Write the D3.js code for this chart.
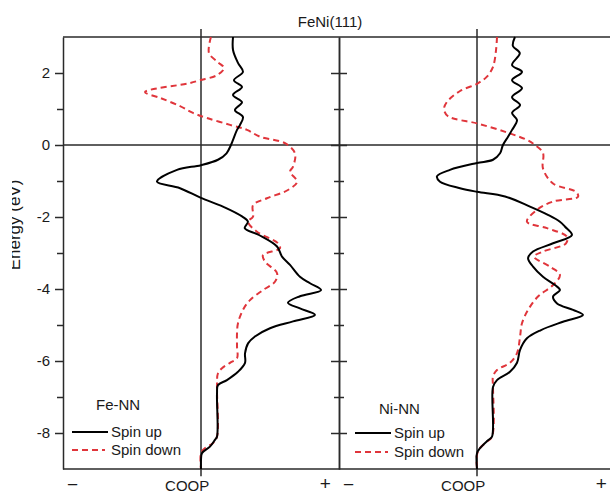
<!DOCTYPE html>
<html>
<head>
<meta charset="utf-8">
<script src="https://cdn.jsdelivr.net/npm/d3@7"></script>
<style>
  body { margin: 0; background: #fff; }
  svg { display: block; }
  text { font-family: "Liberation Sans", Arial, sans-serif; fill: #1a1a1a; }
</style>
</head>
<body>
<div id="chart"></div>
<script>
// energy (eV) vs COOP (arb. units)
const feUp = [[3.0,0.232],[2.64,0.232],[2.28,0.268],[2.03,0.304],[1.8,0.239],[1.61,0.297],[1.39,0.232],
  [1.19,0.297],[0.97,0.246],[0.78,0.304],[0.56,0.283],[0.42,0.261],[0.14,0.232],[0.0,0.217],[-0.23,0.185],
  [-0.41,0.123],[-0.56,0.0],[-0.69,-0.174],[-1.02,-0.319],[-1.2,-0.152],[-1.47,0.0],[-1.71,0.159],[-1.99,0.3],
  [-2.13,0.34],[-2.31,0.317],[-2.5,0.42],[-2.82,0.551],[-3.1,0.587],[-3.33,0.645],[-3.66,0.717],[-3.84,0.79],
  [-4.03,0.87],[-4.2,0.717],[-4.38,0.63],[-4.54,0.717],[-4.72,0.826],[-4.9,0.667],[-5.09,0.5],[-5.32,0.391],
  [-5.51,0.341],[-5.79,0.319],[-6.05,0.319],[-6.3,0.268],[-6.53,0.188],[-6.67,0.123],[-6.9,0.116],[-8.1,0.116],
  [-8.19,0.101],[-8.38,0.065],[-8.56,0.007],[-8.75,0.0],[-9.0,0.0]];
const feDown = [[3.0,0.072],[2.55,0.058],[2.3,0.123],[2.14,0.167],[1.94,0.116],[1.8,-0.007],[1.72,-0.08],
  [1.47,-0.406],[1.31,-0.297],[1.08,-0.152],[0.89,-0.058],[0.75,0.043],[0.56,0.21],[0.42,0.333],[0.23,0.428],
  [0.05,0.609],[-0.23,0.681],[-0.6,0.667],[-0.74,0.645],[-1.02,0.696],[-1.25,0.63],[-1.48,0.478],[-1.67,0.377],
  [-1.99,0.377],[-2.13,0.341],[-2.41,0.406],[-2.73,0.558],[-2.87,0.572],[-3.06,0.449],[-3.24,0.464],[-3.56,0.551],
  [-3.8,0.536],[-4.03,0.449],[-4.31,0.355],[-4.58,0.304],[-4.95,0.268],[-5.23,0.261],[-5.6,0.261],[-5.92,0.261],
  [-6.05,0.21],[-6.2,0.152],[-6.34,0.123],[-6.72,0.116],[-8.1,0.116],[-8.28,0.087],[-8.42,0.029],[-8.56,0.0],[-9.0,0.0]];
const niUp = [[3.0,0.275],[2.75,0.26],[2.55,0.31],[2.22,0.254],[2.03,0.326],[1.8,0.254],[1.58,0.326],[1.33,0.254],
  [1.11,0.312],[0.89,0.254],[0.69,0.29],[0.42,0.254],[0.23,0.225],[0.0,0.188],[-0.23,0.167],[-0.41,0.116],
  [-0.5,0.0],[-0.69,-0.196],[-0.87,-0.29],[-1.02,-0.268],[-1.2,-0.123],[-1.3,0.0],[-1.43,0.203],[-1.71,0.384],
  [-1.94,0.514],[-2.13,0.601],[-2.27,0.638],[-2.5,0.688],[-2.73,0.551],[-2.96,0.406],[-3.14,0.37],[-3.38,0.406],
  [-3.66,0.478],[-3.89,0.565],[-4.03,0.601],[-4.21,0.551],[-4.4,0.58],[-4.58,0.696],[-4.72,0.768],[-4.91,0.623],
  [-5.14,0.464],[-5.37,0.362],[-5.69,0.312],[-6.05,0.29],[-6.3,0.239],[-6.53,0.145],[-6.72,0.116],[-8.1,0.109],
  [-8.2,0.08],[-8.42,0.022],[-8.56,0.0],[-9.0,0.0]];
const niDown = [[3.0,0.145],[2.64,0.138],[2.17,0.116],[1.9,0.072],[1.7,0.0],[1.5,-0.123],[1.2,-0.217],[1.0,-0.239],
  [0.8,-0.21],[0.6,0.0],[0.35,0.217],[0.14,0.362],[0.0,0.42],[-0.22,0.478],[-0.65,0.478],[-1.07,0.551],
  [-1.3,0.717],[-1.44,0.732],[-1.57,0.551],[-1.8,0.435],[-2.13,0.362],[-2.31,0.507],[-2.55,0.652],[-2.73,0.645],
  [-2.96,0.478],[-3.1,0.413],[-3.38,0.529],[-3.61,0.601],[-3.89,0.551],[-4.21,0.442],[-4.58,0.37],[-4.95,0.326],
  [-5.32,0.312],[-5.78,0.29],[-6.05,0.239],[-6.25,0.145],[-6.43,0.116],[-6.72,0.116],[-8.1,0.109],[-8.24,0.072],
  [-8.42,0.022],[-8.6,0.0],[-9.0,0.0]];

const panelNames = ["Fe-NN", "Ni-NN"];
const legendLabels = ["Spin up", "Spin down"];
const majorTicks = [-8, -6, -4, -2, 0, 2];
const minorTicks = [-7, -5, -3, -1, 1];
const title = "FeNi(111)";

const width = 610, height = 495;
const svg = d3.select("#chart").append("svg").attr("width", width).attr("height", height);

const y = d3.scaleLinear().domain([-9, 3]).range([469, 37]);
const xFe = d3.scaleLinear().domain([-1, 1]).range([63, 339]);
const xNi = d3.scaleLinear().domain([-1, 1]).range([339, 615]);
const frameColor = "#2a2a2a";
const red = "#e0353b";

// frame lines: top, bottom and E = 0
[3, -9, 0].forEach(e => {
  svg.append("line").attr("x1", 63).attr("x2", width)
    .attr("y1", y(e)).attr("y2", y(e))
    .attr("stroke", frameColor).attr("stroke-width", 1.5);
});

// left energy axis
const axL = svg.append("g").attr("transform", "translate(63,0)")
  .call(d3.axisLeft(y).tickValues(majorTicks).tickSize(8).tickSizeOuter(0).tickPadding(5).tickFormat(d => String(d)));
axL.selectAll("path, line").attr("stroke", frameColor).attr("stroke-width", 1.5);
axL.selectAll("text").attr("font-size", 15).attr("fill", "#1a1a1a")
  .style("font-family", '"Liberation Sans", Arial, sans-serif');
svg.append("g").attr("transform", "translate(63,0)")
  .call(d3.axisLeft(y).tickValues(minorTicks).tickSize(6).tickSizeOuter(0).tickFormat(""))
  .call(g => g.select(".domain").remove())
  .selectAll("line").attr("stroke", frameColor).attr("stroke-width", 1.5);

// middle axis with ticks crossing both sides
[d3.axisLeft, d3.axisRight].forEach(ax => {
  const g1 = svg.append("g").attr("transform", "translate(339,0)")
    .call(ax(y).tickValues(majorTicks).tickSize(8).tickSizeOuter(0).tickFormat(""));
  g1.selectAll("path, line").attr("stroke", frameColor).attr("stroke-width", 1.5);
  svg.append("g").attr("transform", "translate(339,0)")
    .call(ax(y).tickValues(minorTicks).tickSize(5).tickSizeOuter(0).tickFormat(""))
    .call(g => g.select(".domain").remove())
    .selectAll("line").attr("stroke", frameColor).attr("stroke-width", 1.5);
});

// y-axis title, clipped at the left like the original scan
svg.append("clipPath").attr("id", "ytclip")
  .append("rect").attr("x", 12).attr("y", 0).attr("width", 40).attr("height", height);
svg.append("g").attr("clip-path", "url(#ytclip)")
  .append("text")
  .attr("transform", "translate(20,225) rotate(-90)")
  .attr("text-anchor", "middle").attr("font-size", 17).attr("fill", "#555")
  .text("Energy (eV)");

svg.append("text").attr("x", 330).attr("y", 27).attr("text-anchor", "middle")
  .attr("font-size", 15).text(title);

const panels = [
  { x: xFe, up: feUp, down: feDown, name: panelNames[0], leg: [72, 410, 432, 450] },
  { x: xNi, up: niUp, down: niDown, name: panelNames[1], leg: [355, 414, 433, 452] }
];

panels.forEach(p => {
  // COOP = 0 line
  svg.append("line").attr("x1", p.x(0)).attr("x2", p.x(0))
    .attr("y1", y(3.22)).attr("y2", y(-9.2))
    .attr("stroke", frameColor).attr("stroke-width", 1.5);

  const line = d3.line().x(d => p.x(d[1])).y(d => y(d[0])).curve(d3.curveCatmullRom.alpha(0.5));
  svg.append("path").datum(p.down).attr("d", line)
    .attr("fill", "none").attr("stroke", red).attr("stroke-width", 2)
    .attr("stroke-dasharray", "6,4");
  svg.append("path").datum(p.up).attr("d", line)
    .attr("fill", "none").attr("stroke", "#000").attr("stroke-width", 2);

  // bottom labels
  svg.append("text").attr("x", p.x(-0.1)).attr("y", 491).attr("text-anchor", "middle")
    .attr("font-size", 15).text("COOP");
  svg.append("text").attr("x", p.x(-0.93)).attr("y", 491).attr("text-anchor", "middle")
    .attr("font-size", 19).text("\u2212");
  svg.append("text").attr("x", p.x(0.9)).attr("y", 490).attr("text-anchor", "middle")
    .attr("font-size", 19).text("+");

  // legend
  const [lx, ny, uy, dy] = p.leg;
  svg.append("text").attr("x", lx + 24).attr("y", ny).attr("font-size", 15).text(p.name);
  svg.append("line").attr("x1", lx).attr("x2", lx + 36).attr("y1", uy).attr("y2", uy)
    .attr("stroke", "#000").attr("stroke-width", 2);
  svg.append("line").attr("x1", lx).attr("x2", lx + 33).attr("y1", dy).attr("y2", dy)
    .attr("stroke", red).attr("stroke-width", 2).attr("stroke-dasharray", "6,4");
  svg.append("text").attr("x", lx + 39).attr("y", uy + 5).attr("font-size", 15).text(legendLabels[0]);
  svg.append("text").attr("x", lx + 39).attr("y", dy + 5).attr("font-size", 15).text(legendLabels[1]);
});
</script>
</body>
</html>
